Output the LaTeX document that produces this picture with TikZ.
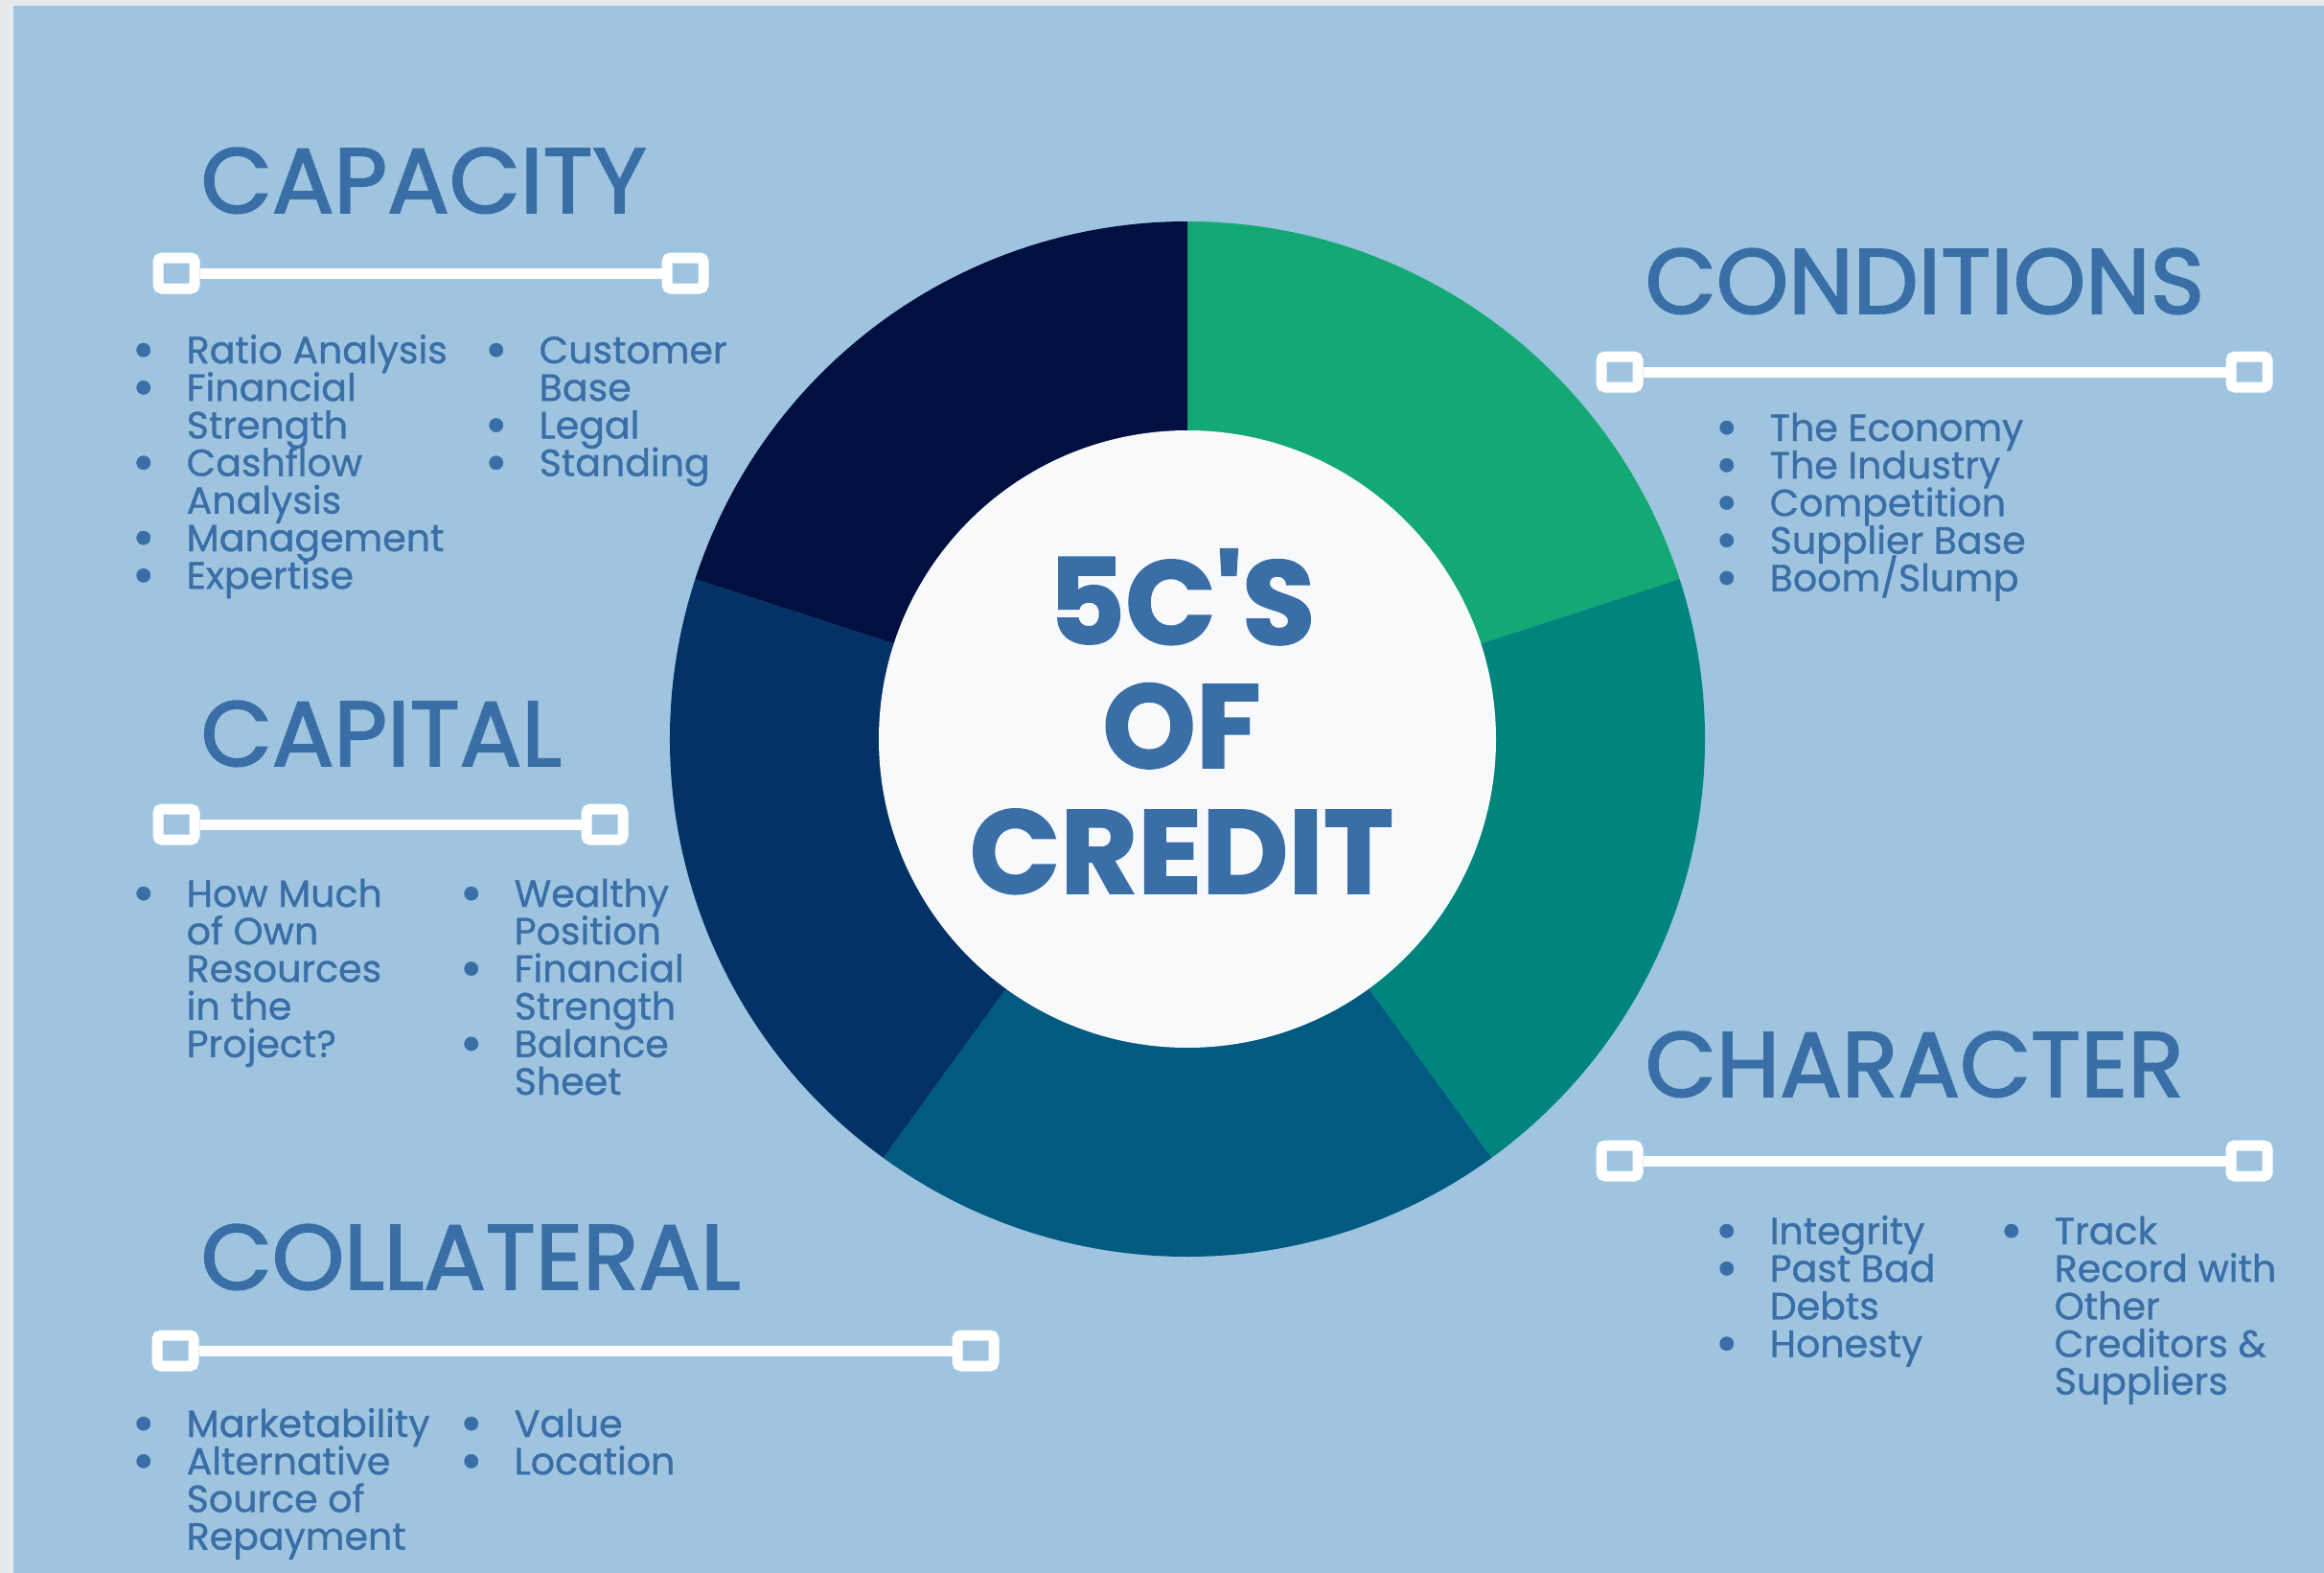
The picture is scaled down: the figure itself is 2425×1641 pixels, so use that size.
\documentclass[tikz,border=0pt]{standalone}
\usepackage{fontspec}
\setmainfont{Poppins}
\newfontfamily\headfont{Poppins}[FakeBold=2]
\newfontfamily\bodyfont{Poppins}[FakeBold=0.8]
\newfontfamily\hubfont{Poppins}[BoldFeatures={FakeBold=1.5}]
\definecolor{bg}{HTML}{9EC4DF}
\definecolor{frame}{HTML}{E6E9EE}
\definecolor{ink}{HTML}{3A6EA6}
\definecolor{segA}{HTML}{14A874}
\definecolor{segB}{HTML}{00857E}
\definecolor{segC}{HTML}{015A80}
\definecolor{segD}{HTML}{033366}
\definecolor{segE}{HTML}{011040}
\definecolor{hub}{HTML}{F7F9FA}
\newcommand\bul{\makebox[0pt][r]{\raisebox{-0.55mm}{\fontsize{5.8mm}{5.8mm}\selectfont\textbullet}\hspace{3.3mm}}}
\begin{document}
\begin{tikzpicture}[x=0.1mm,y=-0.1mm,
  handle/.style={rectangle, draw=white, fill=bg, line width=1.1mm, minimum width=3.8mm, minimum height=3.2mm, inner sep=0pt, rounded corners=0.4mm},
  bar/.style={white, line width=1.1mm},
  head/.style={anchor=base west, inner sep=0pt, text=ink, font=\headfont\fontsize{9.6mm}{10mm}\selectfont},
  item/.style={anchor=base west, inner sep=0pt, text=ink, font=\bodyfont\fontsize{3.95mm}{4.2mm}\selectfont},
  hubtext/.style={anchor=base, inner sep=0pt, text=ink, font=\hubfont\bfseries\fontsize{12.4mm}{13mm}\selectfont}]
\useasboundingbox (0,0) rectangle (2425,1641);
\fill[frame] (0,0) rectangle (2425,1641);
\fill[bg] (14,6) rectangle (2425,1641);
% donut
\coordinate (O) at (1239,771);
\fill[segA] (O) -- ++(-90:540) arc[start angle=-90,end angle=-18,radius=540] -- cycle;
\fill[segB] (O) -- ++(-18:540) arc[start angle=-18,end angle=54,radius=540] -- cycle;
\fill[segC] (O) -- ++(54:540) arc[start angle=54,end angle=126,radius=540] -- cycle;
\fill[segD] (O) -- ++(126:540) arc[start angle=126,end angle=198,radius=540] -- cycle;
\fill[segE] (O) -- ++(198:540) arc[start angle=198,end angle=270,radius=540] -- cycle;
\node[circle, fill=hub, minimum size=64.4mm, inner sep=0pt] (hub) at (O) {};
\node[hubtext] (c1) at (1233,672) {5C\textquotesingle S};
\node[hubtext] (c2) at (1233,801) {OF};
\node[hubtext] (c3) at (1233,932) {CREDIT};
% headings
\node[head] (hCapacity) at (209,222) {CAPACITY};
\node[head] (hConditions) at (1716,327) {CONDITIONS};
\node[head] (hCapital) at (209,799) {CAPITAL};
\node[head] (hCollateral) at (209,1345) {COLLATERAL};
\node[head] (hCharacter) at (1716,1144) {CHARACTER};
% sliders
\node[handle] (capL) at (184,285) {};
\node[handle] (capR) at (715,285) {};
\draw[bar] (capL) -- (capR);
\node[handle] (conL) at (1690,388) {};
\node[handle] (conR) at (2347,388) {};
\draw[bar] (conL) -- (conR);
\node[handle] (capiL) at (184,860) {};
\node[handle] (capiR) at (631,860) {};
\draw[bar] (capiL) -- (capiR);
\node[handle] (colL) at (183,1409) {};
\node[handle] (colR) at (1018,1409) {};
\draw[bar] (colL) -- (colR);
\node[handle] (chaL) at (1690,1211) {};
\node[handle] (chaR) at (2347,1211) {};
\draw[bar] (chaL) -- (chaR);
% lists
\foreach \t [count=\i] in {{\bul Ratio Analysis},{\bul Financial},{Strength},{\bul Cashflow},{Analysis},{\bul Management},{\bul Expertise}}
  \node[item] (capA\i) at (194,{379+39.2*(\i-1)}) {\t};
\foreach \t [count=\i] in {{\bul Customer},{Base},{\bul Legal},{\bul Standing}}
  \node[item] (capB\i) at (562,{379+39.2*(\i-1)}) {\t};
\foreach \t [count=\i] in {{\bul The Economy},{\bul The Industry},{\bul Competition},{\bul Supplier Base},{\bul Boom/Slump}}
  \node[item] (conA\i) at (1846,{460+39.2*(\i-1)}) {\t};
\foreach \t [count=\i] in {{\bul How Much},{of Own},{Resources},{in the},{Project?}}
  \node[item] (capiA\i) at (194,{946+39.2*(\i-1)}) {\t};
\foreach \t [count=\i] in {{\bul Wealthy},{Position},{\bul Financial},{Strength},{\bul Balance},{Sheet}}
  \node[item] (capiB\i) at (536,{946+39.2*(\i-1)}) {\t};
\foreach \t [count=\i] in {{\bul Marketability},{\bul Alternative},{Source of},{Repayment}}
  \node[item] (colA\i) at (194,{1499+39.2*(\i-1)}) {\t};
\foreach \t [count=\i] in {{\bul Value},{\bul Location}}
  \node[item] (colB\i) at (536,{1499+39.2*(\i-1)}) {\t};
\foreach \t [count=\i] in {{\bul Integrity},{\bul Past Bad},{Debts},{\bul Honesty}}
  \node[item] (chaA\i) at (1846,{1298+39.2*(\i-1)}) {\t};
\foreach \t [count=\i] in {{\bul Track},{Record with},{Other},{Creditors \&},{Suppliers}}
  \node[item] (chaB\i) at (2143,{1298+39.2*(\i-1)}) {\t};
\end{tikzpicture}
\end{document}
